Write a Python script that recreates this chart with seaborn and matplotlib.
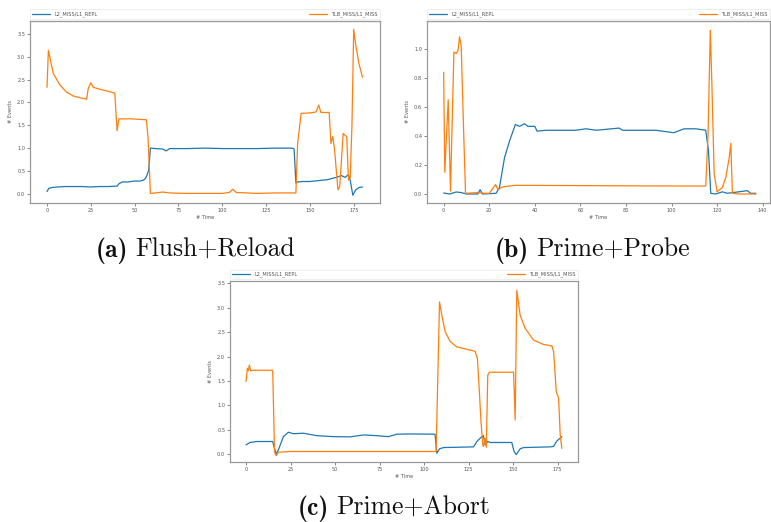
import matplotlib
matplotlib.use("Agg")
import matplotlib.pyplot as plt
import seaborn as sns
import pandas as pd

# ---------------- data ----------------
label_blue = "L2_MISS/L1_REPL"
label_orange = "TLB_MISS/L1_MISS"

# (a) Flush+Reload
a_blue_t = [0, 1, 3, 6, 10, 15, 20, 25, 30, 35, 40, 41, 43, 46, 50, 53, 55, 56, 57, 58, 59, 62, 66, 68, 70,
            80, 90, 100, 110, 120, 130, 140, 141, 142, 143, 146, 150, 155, 160, 165, 168, 170, 172, 173,
            174.5, 176, 178, 180]
a_blue_v = [0.05, 0.12, 0.14, 0.15, 0.16, 0.16, 0.16, 0.15, 0.16, 0.16, 0.17, 0.22, 0.26, 0.26, 0.28, 0.28,
            0.30, 0.33, 0.40, 0.52, 1.00, 0.99, 0.98, 0.94, 0.99, 0.99, 1.00, 0.99, 0.99, 0.99, 1.00, 1.00,
            0.98, 0.24, 0.26, 0.27, 0.27, 0.29, 0.31, 0.36, 0.40, 0.36, 0.42, 0.30, -0.03, 0.08, 0.14, 0.15]
a_orange_t = [0, 0.8, 3.6, 7.4, 11, 15, 19, 22.6, 23.5, 25, 26.4, 30, 36, 38.7, 39.3, 40, 41, 48, 56.7,
              57.7, 59, 62, 66, 70, 80, 90, 100, 104, 106, 108, 120, 130, 142, 143, 145, 150, 153.5, 155,
              156.3, 161, 162, 163, 164, 166, 167, 169, 171, 172, 173, 174, 175, 176.3, 178, 180]
a_orange_v = [2.33, 3.14, 2.63, 2.38, 2.23, 2.14, 2.10, 2.07, 2.30, 2.43, 2.33, 2.29, 2.23, 2.20, 1.80, 1.38,
              1.64, 1.64, 1.62, 1.20, 0.01, 0.02, 0.04, 0.02, 0.01, 0.01, 0.01, 0.03, 0.10, 0.03, 0.01, 0.02,
              0.02, 1.10, 1.76, 1.77, 1.79, 1.94, 1.78, 1.78, 1.10, 1.25, 1.00, 0.09, 0.15, 1.32, 1.25, 0.30,
              0.35, 1.50, 3.60, 3.22, 2.85, 2.55]

# (b) Prime+Probe
b_blue_t = [0, 2.6, 5.5, 7.7, 10, 15, 16, 17, 23, 24.5, 26.7, 29, 31.5, 33.3, 35.5, 37, 40, 41, 45, 58,
            62.5, 67, 77, 78.5, 93, 101, 105.5, 110.7, 115, 116.2, 117.2, 119.4, 122.3, 124.5, 133.3,
            134.7, 137]
b_blue_v = [0.007, 0.0, 0.014, 0.01, 0.0, 0.0, 0.03, 0.0, 0.005, 0.045, 0.25, 0.37, 0.48, 0.467, 0.485,
            0.467, 0.467, 0.434, 0.44, 0.44, 0.45, 0.44, 0.455, 0.44, 0.44, 0.423, 0.45, 0.45, 0.44, 0.30,
            0.005, 0.0, 0.015, 0.005, 0.023, 0.005, 0.005]
b_orange_t = [0, 0.5, 2, 3, 4.5, 5.5, 6.3, 7, 7.7, 8.8, 9.6, 15, 18, 20, 22.8, 23.8, 26, 31.8, 60, 90, 115,
              116, 117, 117.7, 118.7, 120, 122.3, 123.8, 125.3, 126, 126.7, 130, 137]
b_orange_v = [0.84, 0.15, 0.65, 0.02, 0.98, 0.97, 0.99, 1.085, 1.02, 0.42, 0.005, 0.01, 0.005, 0.005,
              0.065, 0.03, 0.05, 0.06, 0.058, 0.056, 0.055, 0.40, 1.13, 0.76, 0.14, 0.015, 0.045, 0.115,
              0.25, 0.35, 0.005, 0.0, 0.0]

# (c) Prime+Abort
c_blue_t = [0, 2.2, 6, 15, 15.7, 16.9, 18.2, 21, 23.8, 26.6, 32.2, 39.7, 49, 58.5, 66, 73.4, 80, 84.7,
            92.2, 106.2, 107.2, 108.7, 111, 127.8, 129.7, 131.9, 133.4, 134.3, 135.8, 137.2, 149.3, 150.6,
            151.8, 154, 155.9, 170.9, 172.8, 174.6, 176.5, 177.4]
c_blue_v = [0.19, 0.24, 0.26, 0.26, 0.16, 0.0, 0.09, 0.36, 0.45, 0.42, 0.43, 0.38, 0.36, 0.355, 0.395,
            0.38, 0.36, 0.41, 0.415, 0.41, 0.02, 0.11, 0.136, 0.15, 0.26, 0.34, 0.38, 0.19, 0.26, 0.24, 0.24,
            0.055, -0.01, 0.11, 0.136, 0.15, 0.16, 0.27, 0.33, 0.36]
c_orange_t = [0, 0.75, 1.3, 1.9, 2.6, 4.1, 15, 16, 16.9, 18.2, 24.7, 60, 106.8, 108.7, 110, 111.9, 114.7,
              118.4, 124, 128.7, 130, 131.2, 132, 133, 133.4, 134.3, 135, 135.8, 136.8, 150.3, 151.2, 152.1,
              154, 156.8, 161.5, 167.1, 171.8, 172.8, 174.3, 175.6, 176.5, 177.4]
c_orange_v = [1.49, 1.76, 1.71, 1.83, 1.71, 1.72, 1.72, 0.05, -0.03, 0.04, 0.055, 0.055, 0.055, 3.12, 2.85,
              2.51, 2.31, 2.20, 2.15, 2.11, 1.96, 1.21, 0.67, 0.19, 0.16, 0.33, 0.14, 1.62, 1.68, 1.68, 0.70,
              3.36, 2.85, 2.58, 2.34, 2.25, 2.22, 2.10, 1.28, 1.15, 0.40, 0.12]

a_xticks = [0, 25, 50, 75, 100, 125, 150, 175]
a_yticks = [0.0, 0.5, 1.0, 1.5, 2.0, 2.5, 3.0, 3.5]
b_xticks = [0, 20, 40, 60, 80, 100, 120, 140]
b_yticks = [0.0, 0.2, 0.4, 0.6, 0.8, 1.0]
c_xticks = [0, 25, 50, 75, 100, 125, 150, 175]
c_yticks = [0.0, 0.5, 1.0, 1.5, 2.0, 2.5, 3.0, 3.5]

cap_tags = ["(a)", "(b)", "(c)"]
cap_names = ["Flush+Reload", "Prime+Probe", "Prime+Abort"]

# ---------------- drawing ----------------
sns.set_style("white")

W, H = 771, 522
fig = plt.figure(figsize=(W / 100, H / 100), dpi=100)

BLUE = "#1f77b4"
ORANGE = "#ff7f0e"


def panel(rect_px, bt, bv, ot, ov, xticks, yticks, xlim, ylim):
    l, r, t, b = rect_px
    ax = fig.add_axes([l / W, (H - b) / H, (r - l) / W, (b - t) / H])
    df_b = pd.DataFrame({"t": bt, "v": bv})
    df_o = pd.DataFrame({"t": ot, "v": ov})
    sns.lineplot(data=df_b, x="t", y="v", ax=ax, color=BLUE, lw=0.9, label=label_blue,
                 estimator=None, sort=False)
    sns.lineplot(data=df_o, x="t", y="v", ax=ax, color=ORANGE, lw=0.9, label=label_orange,
                 estimator=None, sort=False)
    ax.set_xlim(*xlim)
    ax.set_ylim(*ylim)
    ax.set_xticks(xticks)
    ax.set_yticks(yticks)
    ax.set_xticklabels([str(x) for x in xticks])
    ax.set_yticklabels([f"{y:.1f}" for y in yticks])
    ax.tick_params(labelsize=3.6, colors="#555555", length=2, width=0.5, pad=1.5,
                   bottom=True, left=True)
    for s in ax.spines.values():
        s.set_color("#999999")
        s.set_linewidth(0.9)
    ax.set_xlabel("# Time", fontsize=3.6, color="#555555", labelpad=1.5)
    ax.set_ylabel("# Events", fontsize=3.6, color="#555555", labelpad=3)
    leg = ax.legend(loc="lower left", bbox_to_anchor=(0.0, 1.01, 1.0, 0.06), mode="expand", ncol=2,
                    fontsize=3.6, frameon=True, borderaxespad=0.0, handlelength=3.5, handletextpad=1.0,
                    borderpad=0.4)
    leg.get_frame().set_edgecolor("#e6e6e6")
    leg.get_frame().set_linewidth(0.6)
    for txt in leg.get_texts():
        txt.set_color("#555555")
    return ax


panel((30, 380, 21, 203), a_blue_t, a_blue_v, a_orange_t, a_orange_v, a_xticks, a_yticks,
      (-9.7, 190), (-0.2, 3.78))
panel((427, 770, 21, 203), b_blue_t, b_blue_v, b_orange_t, b_orange_v, b_xticks, b_yticks,
      (-7.3, 143.2), (-0.062, 1.194))
panel((230, 578, 281, 462), c_blue_t, c_blue_v, c_orange_t, c_orange_v, c_xticks, c_yticks,
      (-9, 186.5), (-0.16, 3.55))

# captions: bold tag + roman name, centred as a pair
CAP_FS = 18.5
GAP = 7  # px between tag and name
cap_pos = [(195, 257), (592, 257), (394, 515)]
renderer = fig.canvas.get_renderer()
for (cx, cy), tag, name in zip(cap_pos, cap_tags, cap_names):
    t1 = fig.text(0, (H - cy) / H, tag, fontfamily="cmb10", fontsize=CAP_FS, ha="left",
                  va="baseline", color="#111111")
    t2 = fig.text(0, (H - cy) / H, name, fontfamily="cmr10", fontsize=CAP_FS, ha="left",
                  va="baseline", color="#111111")
    w1 = t1.get_window_extent(renderer).width
    w2 = t2.get_window_extent(renderer).width
    x0 = cx - (w1 + GAP + w2) / 2
    t1.set_x(x0 / W)
    t2.set_x((x0 + w1 + GAP) / W)

fig.savefig("out.png", dpi=100)
